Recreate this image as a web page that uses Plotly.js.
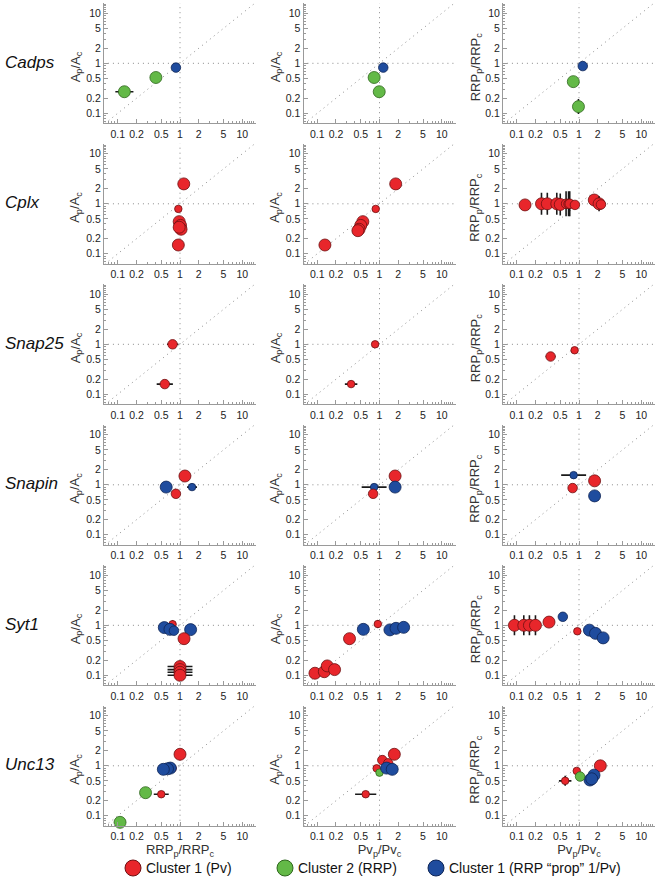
<!DOCTYPE html>
<html>
<head>
<meta charset="utf-8">
<script src="https://cdn.plot.ly/plotly-3.0.1.min.js"></script>
<style>
  html, body { margin: 0; padding: 0; background: #fff; }
  #grafico { width: 658px; height: 886px; }
</style>
</head>
<body>
<div id="grafico"></div>
<script>
// genes (rows) and the three comparisons (columns)
const genes = ['Cadps', 'Cplx', 'Snap25', 'Snapin', 'Syt1', 'Unc13']
const xTitles = ['RRP<sub>p</sub>/RRP<sub>c</sub>', 'Pv<sub>p</sub>/Pv<sub>c</sub>', 'Pv<sub>p</sub>/Pv<sub>c</sub>']
const yTitles = ['A<sub>p</sub>/A<sub>c</sub>', 'A<sub>p</sub>/A<sub>c</sub>', 'RRP<sub>p</sub>/RRP<sub>c</sub>']
const clusterNames = ['Cluster 1 (Pv)', 'Cluster 2 (RRP)', 'Cluster 1 (RRP \u201cprop\u201d 1/Pv)']
const tickValues = [0.1, 0.2, 0.5, 1, 2, 5, 10]
const minorValues = [0.06, 0.07, 0.08, 0.09, 0.3, 0.4, 0.6, 0.7, 0.8, 0.9, 3, 4, 6, 7, 8, 9, 11, 12, 13, 14, 15]

// points: [x, y, cluster (0 red, 1 green, 2 blue), size class, x error (decades), y error (decades)]
const cadpsRRP = [[0.128, 0.27, 1, 'l', 0.145, 0], [0.41, 0.52, 1, 'l', 0, 0], [0.86, 0.82, 2, 'm', 0, 0]]
const cadpsPv = [[1.15, 0.82, 2, 'm', 0, 0], [0.82, 0.52, 1, 'l', 0, 0], [0.99, 0.27, 1, 'l', 0, 0]]
const cadpsPvRRP = [[1.15, 0.88, 2, 'm', 0, 0], [0.81, 0.43, 1, 'l', 0, 0], [0.98, 0.136, 1, 'l', 0, 0.15]]

const cplxRRP = [[1.15, 2.5, 0, 'l', 0, 0], [0.94, 0.79, 0, 's', 0, 0], [0.97, 0.44, 0, 'l', 0, 0],
  [1.02, 0.37, 0, 'l', 0, 0], [1.04, 0.31, 0, 'l', 0, 0], [0.97, 0.34, 0, 'l', 0, 0], [0.94, 0.15, 0, 'l', 0, 0]]
const cplxPv = [[1.82, 2.5, 0, 'l', 0, 0], [0.87, 0.79, 0, 's', 0, 0], [0.54, 0.44, 0, 'l', 0, 0],
  [0.5, 0.37, 0, 'l', 0, 0], [0.47, 0.31, 0, 'l', 0, 0], [0.45, 0.29, 0, 'l', 0, 0], [0.133, 0.15, 0, 'l', 0, 0]]
const cplxPvRRP = [[0.136, 0.95, 0, 'l', 0, 0], [0.25, 1.0, 0, 'l', 0, 0.22], [0.31, 1.0, 0, 'l', 0, 0.22],
  [0.44, 1.0, 0, 'l', 0, 0.22], [0.5, 0.97, 0, 'l', 0, 0.22], [0.62, 1.0, 0, 'm', 0, 0.25], [0.68, 1.0, 0, 'm', 0, 0.25],
  [0.71, 1.0, 0, 'm', 0, 0.25], [0.86, 0.95, 0, 'm', 0, 0], [1.76, 1.19, 0, 'l', 0, 0.1], [2.1, 1.0, 0, 'l', 0, 0.15],
  [2.25, 0.97, 0, 'm', 0, 0]]

const snap25RRP = [[0.76, 1.0, 0, 'm', 0.09, 0], [0.57, 0.16, 0, 'm', 0.13, 0]]
const snap25Pv = [[0.85, 1.0, 0, 's', 0.05, 0.05], [0.35, 0.16, 0, 's', 0.1, 0]]
const snap25PvRRP = [[0.85, 0.76, 0, 's', 0.03, 0.05], [0.35, 0.57, 0, 'm', 0.08, 0.08]]

const snapinRRP = [[1.2, 1.5, 0, 'l', 0.08, 0], [0.6, 0.9, 2, 'l', 0, 0], [0.86, 0.66, 0, 'm', 0.06, 0], [1.56, 0.9, 2, 's', 0.08, 0.05]]
const snapinPv = [[1.78, 1.5, 0, 'l', 0, 0], [1.78, 0.9, 2, 'l', 0, 0], [0.82, 0.9, 2, 's', 0.2, 0.05], [0.79, 0.66, 0, 'm', 0.06, 0]]
const snapinPvRRP = [[0.82, 1.56, 2, 's', 0.2, 0.04], [0.79, 0.86, 0, 'm', 0.06, 0], [1.78, 1.2, 0, 'l', 0, 0.08], [1.78, 0.6, 2, 'l', 0, 0]]

const syt1RRP = [[1.0, 0.15, 0, 'l', 0.2, 0], [1.0, 0.13, 0, 'l', 0.2, 0], [1.0, 0.115, 0, 'l', 0.2, 0], [1.0, 0.1, 0, 'l', 0.2, 0],
  [0.76, 1.05, 0, 's', 0.05, 0.08], [0.56, 0.9, 2, 'l', 0, 0], [0.69, 0.83, 2, 'l', 0, 0], [0.8, 0.78, 2, 'm', 0, 0],
  [1.48, 0.82, 2, 'l', 0, 0], [1.16, 0.54, 0, 'l', 0, 0]]
const syt1Pv = [[0.092, 0.11, 0, 'l', 0, 0], [0.13, 0.118, 0, 'l', 0, 0], [0.145, 0.154, 0, 'l', 0, 0], [0.19, 0.13, 0, 'l', 0, 0],
  [0.33, 0.54, 0, 'l', 0, 0], [0.55, 0.83, 2, 'l', 0, 0], [0.94, 1.06, 0, 's', 0.05, 0.08],
  [1.47, 0.81, 2, 'l', 0, 0], [1.84, 0.87, 2, 'l', 0, 0], [2.44, 0.91, 2, 'l', 0, 0]]
const syt1PvRRP = [[0.092, 1.0, 0, 'l', 0, 0.2], [0.13, 1.0, 0, 'l', 0, 0.2], [0.16, 1.0, 0, 'l', 0, 0.2], [0.2, 1.0, 0, 'l', 0, 0.2],
  [0.33, 1.16, 0, 'l', 0, 0], [0.55, 1.48, 2, 'm', 0, 0], [0.94, 0.76, 0, 's', 0.05, 0.06],
  [1.47, 0.8, 2, 'l', 0, 0], [1.84, 0.69, 2, 'l', 0, 0], [2.44, 0.56, 2, 'l', 0, 0]]

const unc13RRP = [[0.109, 0.074, 1, 'l', 0.08, 0.02], [0.28, 0.29, 1, 'l', 0, 0], [0.5, 0.27, 0, 's', 0.12, 0],
  [1.0, 1.7, 0, 'l', 0, 0], [0.76, 0.89, 0, 's', 0, 0], [0.7, 0.9, 2, 'l', 0, 0], [0.63, 0.87, 2, 'l', 0, 0], [0.54, 0.85, 2, 'l', 0, 0.1]]
const unc13Pv = [[0.6, 0.27, 0, 's', 0.17, 0], [1.73, 1.7, 0, 'l', 0, 0], [1.11, 1.3, 0, 'm', 0, 0], [1.38, 1.12, 0, 'm', 0, 0],
  [0.9, 0.89, 0, 's', 0, 0], [1.0, 0.73, 1, 's', 0, 0], [1.3, 0.9, 2, 'l', 0, 0], [1.6, 0.85, 2, 'l', 0, 0]]
const unc13PvRRP = [[0.6, 0.5, 0, 's', 0.1, 0.1], [2.2, 1.0, 0, 'l', 0, 0], [0.92, 0.79, 0, 's', 0, 0],
  [1.74, 0.65, 2, 'l', 0, 0], [1.5, 0.52, 2, 'l', 0, 0], [1.6, 0.55, 2, 'l', 0, 0], [1.04, 0.61, 1, 'm', 0, 0]]

const panels = [
  [cadpsRRP, cadpsPv, cadpsPvRRP],
  [cplxRRP, cplxPv, cplxPvRRP],
  [snap25RRP, snap25Pv, snap25PvRRP],
  [snapinRRP, snapinPv, snapinPvRRP],
  [syt1RRP, syt1Pv, syt1PvRRP],
  [unc13RRP, unc13Pv, unc13PvRRP],
]

const W = 658, H = 886
const fills = ['#e8262b', '#63b947', '#1f4c9e']
const edges = ['#6e1012', '#2e661d', '#0e2556']
const sizePx = { s: 7.5, m: 9.5, l: 12 }
const fontFam = 'Liberation Sans, Arial, sans-serif'
const colLeft = [104, 303.5, 503]
const yTitleX = [76, 276, 476]
const plotW = 152, plotH = 120

const traces = []
const layout = {
  width: W, height: H,
  margin: { l: 0, r: 0, t: 0, b: 0 },
  paper_bgcolor: '#fff', plot_bgcolor: 'rgba(0,0,0,0)',
  showlegend: false,
  font: { family: fontFam, color: '#222' },
  annotations: [], shapes: [],
}

function errArr(vals, errs, plus) {
  return vals.map((v, i) => plus ? v * (Math.pow(10, errs[i]) - 1) : v * (1 - Math.pow(10, -errs[i])))
}

genes.forEach((gene, r) => {
  const top = 3.3 + 140.5 * r
  for (let c = 0; c < 3; c++) {
    const k = r * 3 + c + 1
    const xa = 'x' + k, ya = 'y' + k
    const axBase = {
      type: 'log', showgrid: false, zeroline: false,
      showline: true, linecolor: '#9a9a9a', linewidth: 1,
      ticks: 'inside', ticklen: 4, tickcolor: '#9a9a9a', tickwidth: 1,
      tickvals: tickValues, ticktext: tickValues.map(String),
      tickfont: { size: 10.5, color: '#222', family: fontFam },
      minor: { tickvals: minorValues, ticks: 'inside', ticklen: 2, tickcolor: '#9a9a9a', tickwidth: 1 },
      fixedrange: true,
    }
    const xaxis = Object.assign({}, axBase, {
      range: [-1.22, 1.22], anchor: ya,
      domain: [colLeft[c] / W, (colLeft[c] + plotW) / W],
      ticklabelstandoff: 1,
    })
    if (r === genes.length - 1) {
      xaxis.title = { text: xTitles[c], font: { size: 13, color: '#333' }, standoff: 0 }
    }
    layout['xaxis' + (k === 1 ? '' : k)] = xaxis
    layout['yaxis' + (k === 1 ? '' : k)] = Object.assign({}, axBase, {
      range: [-1.2, 1.2], anchor: xa,
      domain: [1 - (top + plotH) / H, 1 - top / H],
    })
    // y axis title, set just left of the tick labels
    layout.annotations.push({
      text: yTitles[c], xref: 'paper', yref: 'paper', textangle: -90,
      x: yTitleX[c] / W, y: 1 - (top + 64) / H, xanchor: 'center', yanchor: 'middle',
      showarrow: false, font: { size: 13, color: '#333', family: fontFam },
    })

    // reference lines: y = x, x = 1, y = 1
    const dotted = { color: '#8a8a8a', width: 1, dash: '1px,4px' }
    traces.push({ x: [0.04, 25], y: [0.04, 25], xaxis: xa, yaxis: ya, mode: 'lines', line: dotted, hoverinfo: 'skip' })
    traces.push({ x: [1, 1], y: [0.04, 25], xaxis: xa, yaxis: ya, mode: 'lines', line: dotted, hoverinfo: 'skip' })
    traces.push({ x: [0.04, 25], y: [1, 1], xaxis: xa, yaxis: ya, mode: 'lines', line: dotted, hoverinfo: 'skip' })

    panels[r][c].forEach(p => {
      const [x, y, cl, sz, ex, ey] = p
      traces.push({
        x: [x], y: [y], xaxis: xa, yaxis: ya, mode: 'markers', cliponaxis: false,
        marker: { size: sizePx[sz], color: fills[cl], line: { color: edges[cl], width: 0.8 } },
        error_x: { type: 'data', symmetric: false, array: errArr([x], [ex], true), arrayminus: errArr([x], [ex], false),
          visible: ex > 0, color: '#1a1a1a', thickness: 1.6, width: 0 },
        error_y: { type: 'data', symmetric: false, array: errArr([y], [ey], true), arrayminus: errArr([y], [ey], false),
          visible: ey > 0, color: '#1a1a1a', thickness: 1.6, width: 0 },
        hoverinfo: 'x+y',
      })
    })
  }
  layout.annotations.push({
    text: '<i>' + gene + '</i>', xref: 'paper', yref: 'paper',
    x: 3 / W, y: 1 - (top + 59) / H, xanchor: 'left', yanchor: 'middle',
    showarrow: false, font: { size: 17, color: '#111', family: fontFam },
  })
})

// legend drawn by hand along the bottom
const legendX = [133, 285, 436]
const legendY = 1 - 868 / H
clusterNames.forEach((name, i) => {
  layout.shapes.push({
    type: 'circle', xref: 'paper', yref: 'paper', xsizemode: 'pixel', ysizemode: 'pixel',
    xanchor: legendX[i] / W, yanchor: legendY, x0: -8, x1: 8, y0: -8, y1: 8,
    fillcolor: fills[i], line: { color: edges[i], width: 1 },
  })
  layout.annotations.push({
    text: name, xref: 'paper', yref: 'paper', x: (legendX[i] + 11) / W, y: legendY,
    xanchor: 'left', yanchor: 'middle', showarrow: false,
    font: { size: 14, color: '#111', family: fontFam },
  })
})

Plotly.newPlot('grafico', traces, layout, { displayModeBar: false, staticPlot: true })
</script>
</body>
</html>
